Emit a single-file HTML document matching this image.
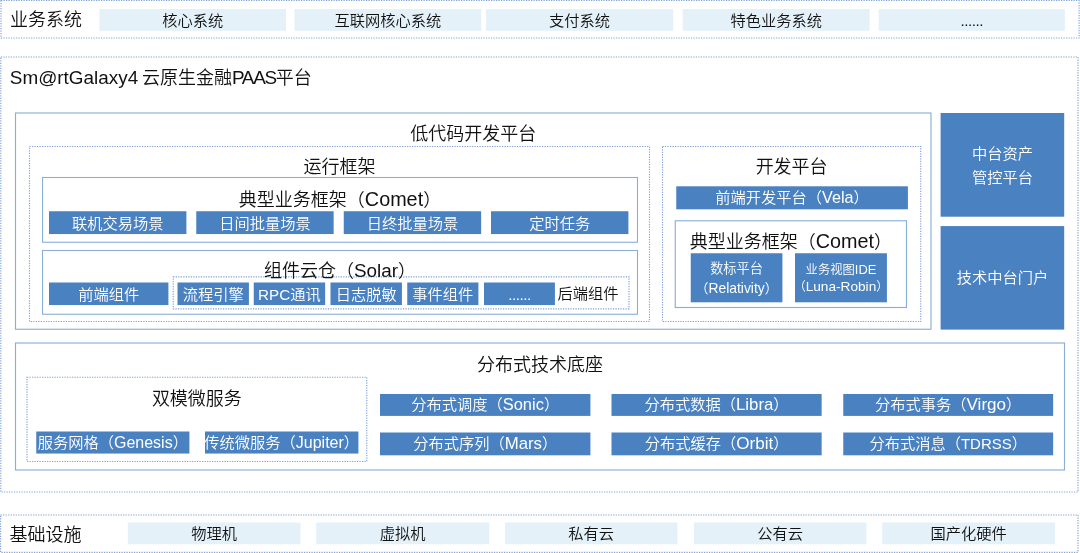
<!DOCTYPE html>
<html lang="zh-CN">
<head>
<meta charset="utf-8">
<title>Sm@rtGalaxy4 云原生金融PAAS平台</title>
<style>
html,body{margin:0;padding:0;background:#fff;}
body{width:1080px;height:553px;overflow:hidden;position:relative;font-family:"Liberation Sans","Noto Sans CJK SC",sans-serif;font-weight:350;}
#bg{position:absolute;left:0;top:0;}
#tx{position:absolute;left:0;top:0;width:1080px;height:553px;will-change:transform;}
.l{font-size:105%;line-height:1;}
.d{letter-spacing:-0.5px;}
.t{position:absolute;display:flex;align-items:center;justify-content:center;text-align:center;white-space:nowrap;line-height:1.2;box-sizing:border-box;}
</style>
</head>
<body>
<svg id="bg" width="1080" height="553" viewBox="0 0 1080 553">
<rect x="1.0" y="0.5" width="1078.10" height="37.50" fill="none" stroke="#80a2d8" stroke-width="1.15" stroke-dasharray="1.25 1.25"/>
<rect x="99.5" y="9" width="186.40" height="21.80" fill="#e4f1f9"/>
<rect x="294.5" y="9" width="186.65" height="21.80" fill="#e4f1f9"/>
<rect x="486" y="9" width="187.15" height="21.80" fill="#e4f1f9"/>
<rect x="682.75" y="9" width="186.90" height="21.80" fill="#e4f1f9"/>
<rect x="878.75" y="9" width="186.05" height="21.80" fill="#e4f1f9"/>
<rect x="0.8" y="57" width="1077.20" height="435.00" fill="none" stroke="#80a2d8" stroke-width="1.15" stroke-dasharray="1.25 1.25"/>
<rect x="15.5" y="113" width="915.50" height="216.25" fill="#fff" stroke="#8ab0d8" stroke-width="1.15"/>
<rect x="940.6" y="113" width="123.60" height="103.70" fill="#4981c1"/>
<rect x="940.6" y="226.1" width="123.60" height="103.50" fill="#4981c1"/>
<rect x="29.5" y="146.5" width="620.00" height="175.00" fill="none" stroke="#80a2d8" stroke-width="1.15" stroke-dasharray="1.25 1.25"/>
<rect x="42.5" y="177.5" width="595.00" height="64.75" fill="#fff" stroke="#8ab0d8" stroke-width="1.1"/>
<rect x="49" y="211.25" width="137.40" height="22.80" fill="#4981c1"/>
<rect x="196.25" y="211.25" width="137.40" height="22.80" fill="#4981c1"/>
<rect x="343.75" y="211.25" width="137.40" height="22.80" fill="#4981c1"/>
<rect x="491" y="211.25" width="137.40" height="22.80" fill="#4981c1"/>
<rect x="42.5" y="250.5" width="595.00" height="63.75" fill="#fff" stroke="#8ab0d8" stroke-width="1.1"/>
<rect x="173.25" y="276.85" width="455.75" height="31.95" fill="none" stroke="#80a2d8" stroke-width="1.15" stroke-dasharray="1.25 1.25"/>
<rect x="49" y="282.5" width="119.40" height="22.55" fill="#4981c1"/>
<rect x="177.5" y="282.5" width="71.40" height="22.55" fill="#4981c1"/>
<rect x="253.75" y="282.5" width="71.40" height="22.55" fill="#4981c1"/>
<rect x="330.5" y="282.5" width="71.40" height="22.55" fill="#4981c1"/>
<rect x="407.25" y="282.5" width="71.15" height="22.55" fill="#4981c1"/>
<rect x="484" y="282.5" width="70.90" height="22.55" fill="#4981c1"/>
<rect x="662.5" y="146.5" width="258.25" height="175.00" fill="none" stroke="#80a2d8" stroke-width="1.15" stroke-dasharray="1.25 1.25"/>
<rect x="676.25" y="186.3" width="231.65" height="23.00" fill="#4981c1"/>
<rect x="675.25" y="220.8" width="231.25" height="86.70" fill="#fff" stroke="#8ab0d8" stroke-width="1.15"/>
<rect x="690.75" y="253.25" width="91.65" height="49.05" fill="#4981c1"/>
<rect x="795" y="253.25" width="91.90" height="49.05" fill="#4981c1"/>
<rect x="15.5" y="343" width="1049.00" height="127.00" fill="#fff" stroke="#8ab0d8" stroke-width="1.15"/>
<rect x="27" y="377.25" width="339.75" height="84.25" fill="none" stroke="#80a2d8" stroke-width="1.15" stroke-dasharray="1.25 1.25"/>
<rect x="36.25" y="431.5" width="153.15" height="22.05" fill="#4981c1"/>
<rect x="205" y="431.5" width="153.40" height="22.05" fill="#4981c1"/>
<rect x="380" y="394" width="210.40" height="21.90" fill="#4981c1"/>
<rect x="611.5" y="394" width="210.15" height="21.90" fill="#4981c1"/>
<rect x="843.25" y="394" width="209.90" height="21.90" fill="#4981c1"/>
<rect x="380" y="432.5" width="210.40" height="22.80" fill="#4981c1"/>
<rect x="611.5" y="432.5" width="210.15" height="22.80" fill="#4981c1"/>
<rect x="843.25" y="432.5" width="209.90" height="22.80" fill="#4981c1"/>
<rect x="0.6" y="515" width="1077.40" height="37.30" fill="none" stroke="#80a2d8" stroke-width="1.15" stroke-dasharray="1.25 1.25"/>
<rect x="127.75" y="522.5" width="172.65" height="21.80" fill="#e4f1f9"/>
<rect x="316.25" y="522.5" width="172.90" height="21.80" fill="#e4f1f9"/>
<rect x="505" y="522.5" width="172.40" height="21.80" fill="#e4f1f9"/>
<rect x="694" y="522.5" width="172.40" height="21.80" fill="#e4f1f9"/>
<rect x="882.25" y="522.5" width="172.65" height="21.80" fill="#e4f1f9"/>
</svg>
<div id="tx">
<div class="t" style="left:10px;top:10px;width:80.00px;height:21.50px;font-size:18px;color:#111;justify-content:flex-start;text-align:left;"><div>业务系统</div></div>
<div class="t" style="left:99.5px;top:10px;width:186.40px;height:21.80px;font-size:15.25px;color:#111;"><div>核心系统</div></div>
<div class="t" style="left:294.5px;top:10px;width:186.65px;height:21.80px;font-size:15.25px;color:#111;"><div>互联网核心系统</div></div>
<div class="t" style="left:486px;top:10px;width:187.15px;height:21.80px;font-size:15.25px;color:#111;"><div>支付系统</div></div>
<div class="t" style="left:682.75px;top:10px;width:186.90px;height:21.80px;font-size:15.25px;color:#111;"><div>特色业务系统</div></div>
<div class="t" style="left:878.75px;top:10px;width:186.05px;height:21.80px;font-size:15.25px;color:#111;"><div><span class="d">......</span></div></div>
<div class="t" style="left:9.8px;top:67px;width:490.20px;height:24.00px;font-size:18px;color:#111;justify-content:flex-start;text-align:left;"><div><span class="l">Sm@rtGalaxy4</span><span style="letter-spacing:-1.2px"> </span>云原生金融<span class="l" style="letter-spacing:-1.3px">PAAS</span>平台</div></div>
<div class="t" style="left:15.5px;top:123px;width:915.50px;height:24.00px;font-size:18px;color:#111;"><div>低代码开发平台</div></div>
<div class="t" style="left:940.6px;top:114px;width:123.60px;height:103.70px;font-size:15.25px;color:#fff;line-height:24px;"><div>中台资产<br>管控平台</div></div>
<div class="t" style="left:940.6px;top:226.1px;width:123.60px;height:103.50px;font-size:15.25px;color:#fff;"><div>技术中台门户</div></div>
<div class="t" style="left:29.5px;top:157px;width:620.00px;height:22.00px;font-size:18px;color:#111;"><div>运行框架</div></div>
<div class="t" style="left:42.5px;top:188.8px;width:595.00px;height:24.00px;font-size:18px;color:#111;"><div>典型业务框架（<span class="l" style="font-size:110%">Comet</span>）</div></div>
<div class="t" style="left:49px;top:212.25px;width:137.40px;height:22.80px;font-size:15.25px;color:#fff;"><div>联机交易场景</div></div>
<div class="t" style="left:196.25px;top:212.25px;width:137.40px;height:22.80px;font-size:15.25px;color:#fff;"><div>日间批量场景</div></div>
<div class="t" style="left:343.75px;top:212.25px;width:137.40px;height:22.80px;font-size:15.25px;color:#fff;"><div>日终批量场景</div></div>
<div class="t" style="left:491px;top:212.25px;width:137.40px;height:22.80px;font-size:15.25px;color:#fff;"><div>定时任务</div></div>
<div class="t" style="left:42.5px;top:260px;width:595.00px;height:24.00px;font-size:18px;color:#111;"><div>组件云仓（<span class="l" style="font-size:105%">Solar</span>）</div></div>
<div class="t" style="left:49px;top:283.5px;width:119.40px;height:22.55px;font-size:15.25px;color:#fff;"><div>前端组件</div></div>
<div class="t" style="left:177.5px;top:283.5px;width:71.40px;height:22.55px;font-size:15.25px;color:#fff;"><div>流程引擎</div></div>
<div class="t" style="left:253.75px;top:283.5px;width:71.40px;height:22.55px;font-size:15.25px;color:#fff;"><div><span class="l" style="font-size:100%">RPC</span>通讯</div></div>
<div class="t" style="left:330.5px;top:283.5px;width:71.40px;height:22.55px;font-size:15.25px;color:#fff;"><div>日志脱敏</div></div>
<div class="t" style="left:407.25px;top:283.5px;width:71.15px;height:22.55px;font-size:15.25px;color:#fff;"><div>事件组件</div></div>
<div class="t" style="left:484px;top:283.5px;width:70.90px;height:22.55px;font-size:15.25px;color:#fff;"><div><span class="d">......</span></div></div>
<div class="t" style="left:557.5px;top:283.5px;width:62.50px;height:22.25px;font-size:15.25px;color:#111;justify-content:flex-start;text-align:left;"><div>后端组件</div></div>
<div class="t" style="left:662.5px;top:157px;width:258.25px;height:22.00px;font-size:18px;color:#111;"><div>开发平台</div></div>
<div class="t" style="left:676.25px;top:186.9px;width:231.65px;height:23.00px;font-size:15.25px;color:#fff;"><div>前端开发平台（<span class="l" style="font-size:106%">Vela</span>）</div></div>
<div class="t" style="left:675.25px;top:230.8px;width:231.25px;height:24.00px;font-size:18px;color:#111;"><div>典型业务框架（<span class="l" style="font-size:110%">Comet</span>）</div></div>
<div class="t" style="left:690.75px;top:254.25px;width:91.65px;height:49.05px;font-size:13.2px;color:#fff;line-height:19.8px;"><div>数标平台<br>（<span class="l" style="font-size:105%">Relativity</span>）</div></div>
<div class="t" style="left:795px;top:254.25px;width:91.90px;height:49.05px;font-size:12.3px;color:#fff;line-height:16.3px;"><div>业务视图<span class="l" style="font-size:105%">IDE</span><br>（<span class="l" style="font-size:111%">Luna-Robin</span>）</div></div>
<div class="t" style="left:15.5px;top:354px;width:1049.00px;height:24.00px;font-size:18px;color:#111;"><div>分布式技术底座</div></div>
<div class="t" style="left:27px;top:388px;width:339.75px;height:24.00px;font-size:18px;color:#111;"><div>双模微服务</div></div>
<div class="t" style="left:36.25px;top:432.5px;width:153.15px;height:22.05px;font-size:15.25px;color:#fff;"><div>服务网格（<span class="l" style="font-size:105%">Genesis</span>）</div></div>
<div class="t" style="left:205px;top:432.5px;width:153.40px;height:22.05px;font-size:15.25px;color:#fff;"><div>传统微服务（<span class="l" style="font-size:105%">Jupiter</span>）</div></div>
<div class="t" style="left:380px;top:394.5px;width:210.40px;height:21.90px;font-size:15.25px;color:#fff;"><div>分布式调度（<span class="l" style="font-size:108%">Sonic</span>）</div></div>
<div class="t" style="left:611.5px;top:394.5px;width:210.15px;height:21.90px;font-size:15.25px;color:#fff;"><div>分布式数据（<span class="l" style="font-size:110%">Libra</span>）</div></div>
<div class="t" style="left:843.25px;top:394.5px;width:209.90px;height:21.90px;font-size:15.25px;color:#fff;"><div>分布式事务（<span class="l" style="font-size:112%">Virgo</span>）</div></div>
<div class="t" style="left:380px;top:433.0px;width:210.40px;height:22.80px;font-size:15.25px;color:#fff;"><div>分布式序列（<span class="l" style="font-size:110%">Mars</span>）</div></div>
<div class="t" style="left:611.5px;top:433.0px;width:210.15px;height:22.80px;font-size:15.25px;color:#fff;"><div>分布式缓存（<span class="l" style="font-size:112%">Orbit</span>）</div></div>
<div class="t" style="left:843.25px;top:433.0px;width:209.90px;height:22.80px;font-size:15.25px;color:#fff;"><div>分布式消息（<span class="l" style="font-size:98%">TDRSS</span>）</div></div>
<div class="t" style="left:9.6px;top:525px;width:80.40px;height:21.50px;font-size:18px;color:#111;justify-content:flex-start;text-align:left;"><div>基础设施</div></div>
<div class="t" style="left:127.75px;top:523.5px;width:172.65px;height:21.80px;font-size:15.25px;color:#111;"><div>物理机</div></div>
<div class="t" style="left:316.25px;top:523.5px;width:172.90px;height:21.80px;font-size:15.25px;color:#111;"><div>虚拟机</div></div>
<div class="t" style="left:505px;top:523.5px;width:172.40px;height:21.80px;font-size:15.25px;color:#111;"><div>私有云</div></div>
<div class="t" style="left:694px;top:523.5px;width:172.40px;height:21.80px;font-size:15.25px;color:#111;"><div>公有云</div></div>
<div class="t" style="left:882.25px;top:523.5px;width:172.65px;height:21.80px;font-size:15.25px;color:#111;"><div>国产化硬件</div></div>
</div>
</body>
</html>
